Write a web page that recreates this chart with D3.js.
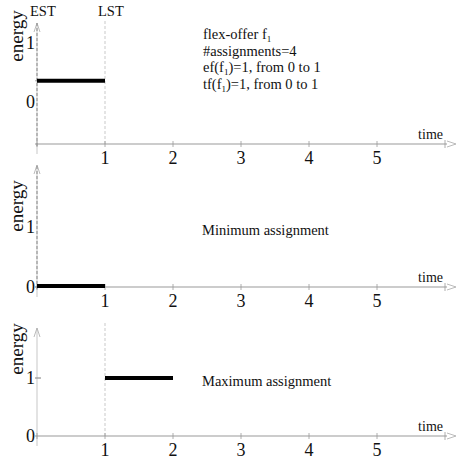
<!DOCTYPE html>
<html><head><meta charset="utf-8">
<script src="https://cdn.jsdelivr.net/npm/d3@7"></script>
<style>
body{margin:0;background:#fff;}
text{font-family:"Liberation Serif","Times New Roman",serif;fill:#111;}
</style></head>
<body>
<svg id="c" width="460" height="466"></svg>
<script>
// ---- data ----
const timeTicks = [1, 2, 3, 4, 5];
const energyTicks = [0, 1];
const barStart = [0, 0, 1];
const barEnd = [1, 1, 2];
const barValue = [0.36, 0, 1];
const panelNotes = ["", "Minimum assignment", "Maximum assignment"];
const infoLines = [["flex-offer f", "1", ""], ["#assignments=4", "", ""], ["ef(f", "1", ")=1, from 0 to 1"], ["tf(f", "1", ")=1, from 0 to 1"]];
const markerLabels = ["EST", "LST"];
const markerTimes = [0, 1];

// ---- layout ----
const svg = d3.select("#c");
const x = d3.scaleLinear().domain([0, 1]).range([37, 105]);
const panels = [
  {axisY: 144, zero: 102, one: 43, top: 23, energyY: 36, noteY: 0, est: true, lst: true, lstTop: 20},
  {axisY: 287, zero: 287, one: 227, top: 165, energyY: 206, noteY: 235, est: true, lst: false},
  {axisY: 436, zero: 436, one: 378, top: 328, energyY: 349, noteY: 386, est: false, lst: true, lstTop: 322}
];
const xEnd = 447;

panels.forEach((p, i) => {
  const g = svg.append("g");
  const y = d3.scaleLinear().domain([0, 1]).range([p.zero, p.one]);
  // y axis
  g.append("line").attr("x1", x(0)).attr("x2", x(0)).attr("y1", p.axisY + 10).attr("y2", p.top)
    .attr("stroke", "#d0d0d0").attr("stroke-width", 1.2);
  g.append("path").attr("d", `M${x(0)-3},${p.top+9}L${x(0)},${p.top}L${x(0)+3},${p.top+9}`)
    .attr("fill", "none").attr("stroke", "#aaa").attr("stroke-width", 0.8);
  if (p.est) {
    g.append("line").attr("x1", x(0)).attr("x2", x(0)).attr("y1", p.axisY + 2).attr("y2", p.top)
      .attr("stroke", "#999").attr("stroke-width", 1.2).attr("stroke-dasharray", "3,2");
  }
  if (p.lst) {
    g.append("line").attr("x1", x(markerTimes[1])).attr("x2", x(markerTimes[1])).attr("y1", p.axisY).attr("y2", p.lstTop)
      .attr("stroke", "#bbb").attr("stroke-width", 0.8).attr("stroke-dasharray", "3,2");
  }
  // x axis
  g.append("line").attr("x1", x(0) - 2).attr("x2", xEnd).attr("y1", p.axisY).attr("y2", p.axisY)
    .attr("stroke", "#999").attr("stroke-width", 1);
  g.append("path").attr("d", `M${xEnd},${p.axisY-3}L${xEnd+9},${p.axisY}L${xEnd},${p.axisY+3}`)
    .attr("fill", "none").attr("stroke", "#aaa").attr("stroke-width", 0.8);
  g.append("line").attr("x1", xEnd - 2).attr("x2", xEnd - 2).attr("y1", p.axisY - 4).attr("y2", p.axisY + 4)
    .attr("stroke", "#999").attr("stroke-width", 0.8);
  g.selectAll(".xt").data([0].concat(timeTicks)).join("line")
    .attr("x1", d => x(d)).attr("x2", d => x(d)).attr("y1", p.axisY - 3).attr("y2", p.axisY + 3)
    .attr("stroke", "#999").attr("stroke-width", 0.8);
  g.selectAll(".xl").data(timeTicks).join("text")
    .attr("x", d => x(d)).attr("y", p.axisY + 20).attr("text-anchor", "middle")
    .attr("font-size", 18).text(d => d);
  g.append("text").attr("x", xEnd - 4).attr("y", p.axisY - 5).attr("text-anchor", "end")
    .attr("font-size", 14).text("time");
  // y tick labels
  g.selectAll(".yl").data(energyTicks).join("text")
    .attr("x", 35).attr("y", d => y(d) + 6).attr("text-anchor", "end")
    .attr("font-size", 18).text(d => d);
  // energy label
  g.append("text").attr("transform", `translate(23,${p.energyY}) rotate(-90)`)
    .attr("text-anchor", "middle").attr("font-size", 19).text("energy");
  // bar tick
  g.append("line").attr("x1", x(0) - 2).attr("x2", x(0) + 4)
    .attr("y1", y(barValue[i])).attr("y2", y(barValue[i])).attr("stroke", "#999").attr("stroke-width", 0.8);
  if (i === 2) {
    g.append("line").attr("x1", x(0) - 2).attr("x2", x(0) + 4)
      .attr("y1", y(1)).attr("y2", y(1)).attr("stroke", "#999").attr("stroke-width", 0.8);
  }
  // bar
  g.append("line").attr("x1", x(barStart[i])).attr("x2", x(barEnd[i]))
    .attr("y1", y(barValue[i]) + (barValue[i] === 0 ? -1 : 0)).attr("y2", y(barValue[i]) + (barValue[i] === 0 ? -1 : 0))
    .attr("stroke", "#000").attr("stroke-width", 4);
  if (panelNotes[i]) {
    g.append("text").attr("x", 202).attr("y", p.noteY).attr("font-size", 14.5).text(panelNotes[i]);
  }
});

// markers
svg.selectAll(".mk").data(markerLabels).join("text")
  .attr("x", (d, i) => x(markerTimes[i]) - 7).attr("y", 16).attr("font-size", 14.5).text(d => d);

// info block
infoLines.forEach((ln, i) => {
  const t = svg.append("text").attr("x", 203).attr("y", 39 + i * 16.5).attr("font-size", 14.5);
  t.append("tspan").text(ln[0]);
  if (ln[1]) t.append("tspan").attr("font-size", 9).attr("dy", 3).text(ln[1]);
  if (ln[2]) t.append("tspan").attr("dy", -3).text(ln[2]);
});
</script>
</body></html>
